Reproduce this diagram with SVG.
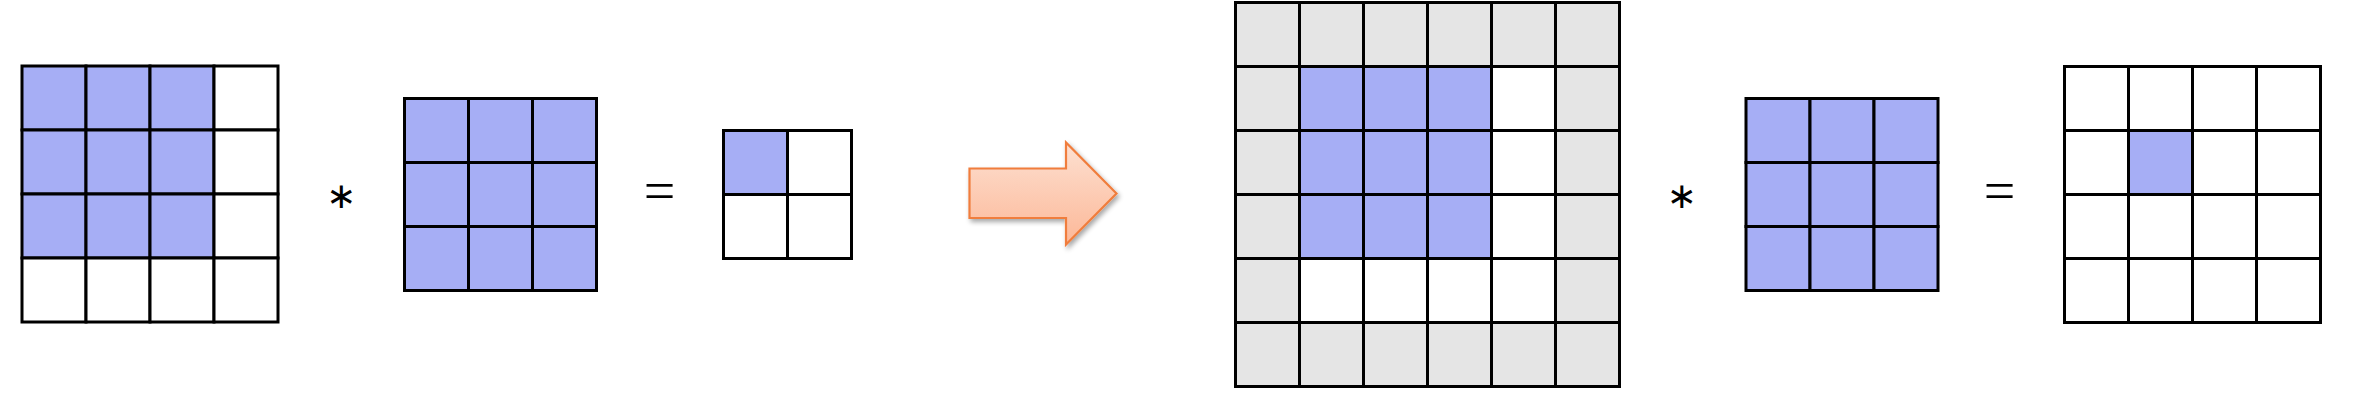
<svg xmlns="http://www.w3.org/2000/svg" width="2354" height="406" viewBox="0 0 2354 406">
<style>
.c{stroke:#000;stroke-width:3;}
.b{fill:#a6aef5;}
.w{fill:#fff;}
.g{fill:#e5e5e5;}
.op{font-family:"DejaVu Sans",sans-serif;font-size:36px;fill:#000;text-anchor:middle;dominant-baseline:central;}
.eq{font-family:"Liberation Serif",serif;font-size:56px;fill:#000;text-anchor:middle;dominant-baseline:central;}
</style>
<defs>
<linearGradient id="ag" x1="0" y1="0" x2="0" y2="1">
<stop offset="0" stop-color="#fde0d1"/>
<stop offset="1" stop-color="#fcb898"/>
</linearGradient>
<filter id="sh" x="-20%" y="-20%" width="150%" height="150%">
<feGaussianBlur in="SourceAlpha" stdDeviation="2.5"/>
<feOffset dx="2" dy="3" result="o"/>
<feComponentTransfer><feFuncA type="linear" slope="0.35"/></feComponentTransfer>
<feMerge><feMergeNode/><feMergeNode in="SourceGraphic"/></feMerge>
</filter>
</defs>
<rect width="2354" height="406" fill="#fff"/>

<g id="input">
<rect class="c b" x="22" y="66" width="64" height="64"/><rect class="c b" x="86" y="66" width="64" height="64"/><rect class="c b" x="150" y="66" width="64" height="64"/><rect class="c w" x="214" y="66" width="64" height="64"/>
<rect class="c b" x="22" y="130" width="64" height="64"/><rect class="c b" x="86" y="130" width="64" height="64"/><rect class="c b" x="150" y="130" width="64" height="64"/><rect class="c w" x="214" y="130" width="64" height="64"/>
<rect class="c b" x="22" y="194" width="64" height="64"/><rect class="c b" x="86" y="194" width="64" height="64"/><rect class="c b" x="150" y="194" width="64" height="64"/><rect class="c w" x="214" y="194" width="64" height="64"/>
<rect class="c w" x="22" y="258" width="64" height="64"/><rect class="c w" x="86" y="258" width="64" height="64"/><rect class="c w" x="150" y="258" width="64" height="64"/><rect class="c w" x="214" y="258" width="64" height="64"/>
</g>

<g id="star1"><text class="op" x="341" y="195">∗</text></g>

<g id="kernel1">
<rect class="c b" x="404.5" y="98.5" width="64" height="64"/><rect class="c b" x="468.5" y="98.5" width="64" height="64"/><rect class="c b" x="532.5" y="98.5" width="64" height="64"/>
<rect class="c b" x="404.5" y="162.5" width="64" height="64"/><rect class="c b" x="468.5" y="162.5" width="64" height="64"/><rect class="c b" x="532.5" y="162.5" width="64" height="64"/>
<rect class="c b" x="404.5" y="226.5" width="64" height="64"/><rect class="c b" x="468.5" y="226.5" width="64" height="64"/><rect class="c b" x="532.5" y="226.5" width="64" height="64"/>
</g>

<g id="eq1"><text class="eq" x="659.5" y="191">=</text></g>

<g id="output1">
<rect class="c b" x="723.5" y="130.5" width="64" height="64"/><rect class="c w" x="787.5" y="130.5" width="64" height="64"/>
<rect class="c w" x="723.5" y="194.5" width="64" height="64"/><rect class="c w" x="787.5" y="194.5" width="64" height="64"/>
</g>

<g id="arrow">
<polygon points="969.5,168.5 1066,168.5 1066,142.5 1116.5,193.5 1066,244.5 1066,218 969.5,218" fill="url(#ag)" stroke="#f07d3c" stroke-width="2.2" stroke-linejoin="miter" filter="url(#sh)"/>
</g>

<g id="padded">
<rect class="c g" x="1235.5" y="2.5" width="64" height="64"/><rect class="c g" x="1299.5" y="2.5" width="64" height="64"/><rect class="c g" x="1363.5" y="2.5" width="64" height="64"/><rect class="c g" x="1427.5" y="2.5" width="64" height="64"/><rect class="c g" x="1491.5" y="2.5" width="64" height="64"/><rect class="c g" x="1555.5" y="2.5" width="64" height="64"/>
<rect class="c g" x="1235.5" y="66.5" width="64" height="64"/><rect class="c b" x="1299.5" y="66.5" width="64" height="64"/><rect class="c b" x="1363.5" y="66.5" width="64" height="64"/><rect class="c b" x="1427.5" y="66.5" width="64" height="64"/><rect class="c w" x="1491.5" y="66.5" width="64" height="64"/><rect class="c g" x="1555.5" y="66.5" width="64" height="64"/>
<rect class="c g" x="1235.5" y="130.5" width="64" height="64"/><rect class="c b" x="1299.5" y="130.5" width="64" height="64"/><rect class="c b" x="1363.5" y="130.5" width="64" height="64"/><rect class="c b" x="1427.5" y="130.5" width="64" height="64"/><rect class="c w" x="1491.5" y="130.5" width="64" height="64"/><rect class="c g" x="1555.5" y="130.5" width="64" height="64"/>
<rect class="c g" x="1235.5" y="194.5" width="64" height="64"/><rect class="c b" x="1299.5" y="194.5" width="64" height="64"/><rect class="c b" x="1363.5" y="194.5" width="64" height="64"/><rect class="c b" x="1427.5" y="194.5" width="64" height="64"/><rect class="c w" x="1491.5" y="194.5" width="64" height="64"/><rect class="c g" x="1555.5" y="194.5" width="64" height="64"/>
<rect class="c g" x="1235.5" y="258.5" width="64" height="64"/><rect class="c w" x="1299.5" y="258.5" width="64" height="64"/><rect class="c w" x="1363.5" y="258.5" width="64" height="64"/><rect class="c w" x="1427.5" y="258.5" width="64" height="64"/><rect class="c w" x="1491.5" y="258.5" width="64" height="64"/><rect class="c g" x="1555.5" y="258.5" width="64" height="64"/>
<rect class="c g" x="1235.5" y="322.5" width="64" height="64"/><rect class="c g" x="1299.5" y="322.5" width="64" height="64"/><rect class="c g" x="1363.5" y="322.5" width="64" height="64"/><rect class="c g" x="1427.5" y="322.5" width="64" height="64"/><rect class="c g" x="1491.5" y="322.5" width="64" height="64"/><rect class="c g" x="1555.5" y="322.5" width="64" height="64"/>
</g>

<g id="star2"><text class="op" x="1681.5" y="195">∗</text></g>

<g id="kernel2">
<rect class="c b" x="1746" y="98.5" width="64" height="64"/><rect class="c b" x="1810" y="98.5" width="64" height="64"/><rect class="c b" x="1874" y="98.5" width="64" height="64"/>
<rect class="c b" x="1746" y="162.5" width="64" height="64"/><rect class="c b" x="1810" y="162.5" width="64" height="64"/><rect class="c b" x="1874" y="162.5" width="64" height="64"/>
<rect class="c b" x="1746" y="226.5" width="64" height="64"/><rect class="c b" x="1810" y="226.5" width="64" height="64"/><rect class="c b" x="1874" y="226.5" width="64" height="64"/>
</g>

<g id="eq2"><text class="eq" x="1999.5" y="191">=</text></g>

<g id="output2">
<rect class="c w" x="2064.5" y="66.5" width="64" height="64"/><rect class="c w" x="2128.5" y="66.5" width="64" height="64"/><rect class="c w" x="2192.5" y="66.5" width="64" height="64"/><rect class="c w" x="2256.5" y="66.5" width="64" height="64"/>
<rect class="c w" x="2064.5" y="130.5" width="64" height="64"/><rect class="c b" x="2128.5" y="130.5" width="64" height="64"/><rect class="c w" x="2192.5" y="130.5" width="64" height="64"/><rect class="c w" x="2256.5" y="130.5" width="64" height="64"/>
<rect class="c w" x="2064.5" y="194.5" width="64" height="64"/><rect class="c w" x="2128.5" y="194.5" width="64" height="64"/><rect class="c w" x="2192.5" y="194.5" width="64" height="64"/><rect class="c w" x="2256.5" y="194.5" width="64" height="64"/>
<rect class="c w" x="2064.5" y="258.5" width="64" height="64"/><rect class="c w" x="2128.5" y="258.5" width="64" height="64"/><rect class="c w" x="2192.5" y="258.5" width="64" height="64"/><rect class="c w" x="2256.5" y="258.5" width="64" height="64"/>
</g>
</svg>
